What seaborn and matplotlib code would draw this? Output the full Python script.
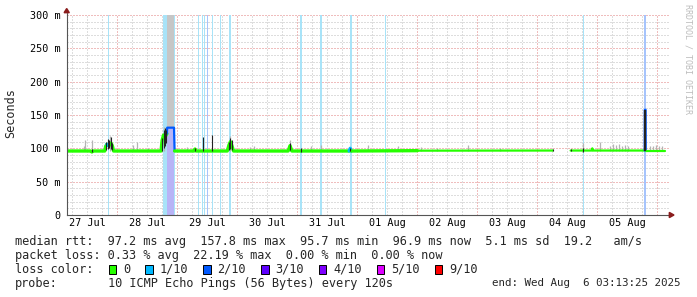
import numpy as np
import pandas as pd
import matplotlib
matplotlib.use("Agg")
import matplotlib.pyplot as plt
from matplotlib.patches import Rectangle, Polygon
from matplotlib.lines import Line2D
import seaborn as sns

YEAR = "2025-"

# ---------------- data ----------------
# median RTT (ms), loss level in tenths per point; NaN = no data
med_time = ["07-27 03:50", "07-27 13:20", "07-27 13:50", "07-27 14:20", "07-27 19:00",
            "07-27 19:20", "07-27 19:50", "07-27 20:25", "07-27 20:50", "07-27 21:30",
            "07-27 22:05", "07-27 22:30", "07-28 17:30", "07-28 17:55", "07-28 18:30",
            "07-28 19:05", "07-28 19:50", "07-28 19:58", "07-28 22:41", "07-28 22:55",
            "07-29 06:40", "07-29 07:05", "07-29 07:30", "07-29 20:00", "07-29 20:40",
            "07-29 21:15", "07-29 21:50", "07-29 22:30", "07-30 20:20", "07-30 21:05",
            "07-30 21:50", "07-31 20:45", "07-31 21:10", "07-31 21:35", "08-02 00:00",
            "08-04 06:15", "08-04 06:20", "08-04 13:20", "08-04 21:45", "08-04 22:00",
            "08-04 22:15", "08-05 18:58", "08-05 19:00", "08-05 19:20", "08-05 19:22",
            "08-06 03:05"]
med_ms = [96.0, 96.0, 94.5, 96.0, 96.0,
          103.0, 106.0, 104.0, 105.0, 108.0,
          103.0, 96.0, 96.0, 112.0, 120.0,
          117.0, 122.0, 131.0, 131.0, 96.0,
          96.0, 99.0, 96.0, 96.0, 105.0,
          110.0, 104.0, 96.0, 96.0, 104.0,
          96.0, 96.0, 100.0, 96.0, 96.5,
          96.7, np.nan, 96.7, 96.7, 100.0,
          96.7, 96.7, 157.8, 157.8, 96.7,
          96.7]
med_loss = [0, 0, 0, 0, 0,
            0, 0, 1, 0, 0,
            0, 0, 0, 0, 0,
            0, 0, 2, 2, 0,
            0, 0, 0, 0, 0,
            0, 0, 0, 0, 0,
            0, 0, 1, 0, 0,
            0, 0, 0, 0, 0,
            0, 0, 2, 2, 0,
            0]

# light smoke (ping spread above the median)
smoke_time = ["07-27 10:40", "07-27 11:05", "07-27 13:50", "07-27 21:00", "07-28 06:15",
              "07-28 07:50", "07-28 12:15", "07-28 18:45", "07-29 03:50", "07-29 21:00",
              "07-30 05:05", "07-30 06:40", "07-30 21:05", "07-31 05:30", "07-31 09:30",
              "08-01 04:15", "08-01 16:15", "08-02 01:30", "08-02 07:50", "08-02 20:10",
              "08-03 09:05", "08-04 18:15", "08-05 01:05", "08-05 05:05", "08-05 06:15",
              "08-05 07:30", "08-05 08:40", "08-05 09:50", "08-05 11:05", "08-05 12:15",
              "08-05 21:05", "08-05 22:15", "08-05 23:30", "08-06 00:40", "08-06 01:55"]
smoke_top = [103, 113, 112, 118, 105,
             110, 101, 132, 102, 118,
             102, 104, 113, 103, 105,
             105, 103, 102, 101, 105,
             101, 108, 110, 104, 106,
             105, 106, 104, 105, 103,
             104, 104, 105, 103, 104]
smoke_low = 96.0

# dark smoke (dense pings)
dark_time = ["07-27 13:50", "07-27 19:25", "07-27 20:05", "07-27 20:45", "07-27 21:25",
             "07-27 22:00", "07-28 17:55", "07-28 18:30", "07-28 19:05", "07-28 19:40",
             "07-29 07:05", "07-29 10:17", "07-29 13:53", "07-29 20:40", "07-29 21:15",
             "07-29 21:50", "07-30 21:05", "07-31 01:29", "07-31 21:10", "08-04 06:15",
             "08-04 13:20", "08-04 18:17", "08-05 19:10"]
dark_low = [94, 98, 99, 100, 99,
            98, 96, 100, 104, 108,
            96, 96, 96, 98, 99,
            98, 97, 95, 96, 96,
            96, 95, 96.7]
dark_high = [99, 110, 114, 112, 117,
             108, 115, 128, 130, 128,
             100, 117, 120, 110, 116,
             112, 108, 100, 101, 99,
             99, 101, 157.8]

# smoke beyond the top of the range
over_start = ["07-28 19:58"]
over_end = ["07-28 22:41"]
over_low = [131.0]

# loss background bars
lossbg_start = ["07-27 20:06", "07-28 18:10", "07-28 19:58", "07-28 22:41", "07-29 08:06",
                "07-29 09:42", "07-29 10:30", "07-29 11:42", "07-29 13:42", "07-29 16:54",
                "07-29 20:47", "07-31 01:11", "07-31 09:11", "07-31 20:58", "08-01 10:54",
                "08-04 18:06", "08-05 18:38"]
lossbg_end = ["07-27 20:42", "07-28 19:58", "07-28 22:41", "07-28 23:00", "07-29 08:42",
              "07-29 10:18", "07-29 11:06", "07-29 12:18", "07-29 14:18", "07-29 17:30",
              "07-29 21:23", "07-31 01:47", "07-31 09:47", "07-31 21:46", "08-01 11:30",
              "08-04 18:42", "08-05 19:32"]
lossbg_level = [1, 1, 3, 1, 1,
                1, 1, 2, 1, 1,
                1, 1, 1, 1, 1,
                1, 2]

y_ticks = [0, 50, 100, 150, 200, 250, 300]
y_tick_labels = ["0", "50 m", "100 m", "150 m", "200 m", "250 m", "300 m"]
x_tick_days = ["07-27", "07-28", "07-29", "07-30", "07-31",
               "08-01", "08-02", "08-03", "08-04", "08-05"]
x_tick_labels = ["27 Jul", "28 Jul", "29 Jul", "30 Jul", "31 Jul",
                 "01 Aug", "02 Aug", "03 Aug", "04 Aug", "05 Aug"]

loss_levels = [0, 1, 2, 3, 4, 5, 9]
loss_labels = ["0", "1/10", "2/10", "3/10", "4/10", "5/10", "9/10"]
loss_colors = ["#26ff00", "#00b8ff", "#0059ff", "#5e00ff", "#7e00ff", "#dd00ff", "#ff0000"]

rtt_avg, rtt_max, rtt_min, rtt_now, rtt_sd, rtt_amps = 97.2, 157.8, 95.7, 96.9, 5.1, 19.2
loss_avg, loss_max, loss_min, loss_now = 0.33, 22.19, 0.00, 0.00
probe_text = "10 ICMP Echo Pings (56 Bytes) every 120s"
end_text = "end: Wed Aug  6 03:13:25 2025"

# ---------------- styling ----------------
W, H = 697, 297
sns.set_theme(style="white")
plt.rcParams["font.family"] = ["DejaVu Sans Mono", "DejaVu Sans"]
plt.rcParams["axes.unicode_minus"] = False

def dt(lst):
    return pd.to_datetime([YEAR + s for s in lst])

def fx(x):
    return x / W

def fy(y):
    return 1 - y / H

lossbg_colors = {1: "#a8e3f8", 2: "#a6c4fc", 3: "#b8b3f6"}
color_of = dict(zip(loss_levels, loss_colors))

fig = plt.figure(figsize=(W / 100, H / 100), dpi=100)
fig.patch.set_facecolor("white")
AX_L, AX_R, AX_T, AX_B = 66.7, 669.0, 15.0, 215.0
ax = fig.add_axes([fx(AX_L), fy(AX_B), (AX_R - AX_L) / W, (AX_B - AX_T) / H])
ax.set_facecolor("white")

ref = pd.Timestamp("2025-08-01 00:00")
px_per_hour = 2.5
x_left = ref - pd.Timedelta(hours=(357.3 - AX_L) / px_per_hour)
x_right = ref + pd.Timedelta(hours=(AX_R - 357.3) / px_per_hour)

dot = (0, (1, 2))
RED = "#e07c7c"
GREY = "#bdbdbd"

# vertical grid (6h minor, midnight major)
for t in pd.date_range("2025-07-27 06:00", "2025-08-06 00:00", freq="6h"):
    ax.axvline(t, color=RED if t.hour == 0 else GREY, lw=0.72, ls=dot, zorder=0.6)

# horizontal grid via ticks
ax.set_yticks(y_ticks, y_tick_labels)
ax.set_yticks(np.arange(0, 301, 10), minor=True)
ax.grid(which="minor", axis="y", color=GREY, lw=0.72, ls=dot)
ax.grid(which="major", axis="y", color=RED, lw=0.72, ls=dot)
ax.grid(which="both", axis="x", visible=False)
ax.set_axisbelow(True)

# loss background
for s, e, lv in zip(dt(lossbg_start), dt(lossbg_end), lossbg_level):
    ax.axvspan(s, e, color=lossbg_colors[lv], lw=0, zorder=1)

# overflow smoke
for s, e, lo in zip(dt(over_start), dt(over_end), over_low):
    ax.fill_between([s, e], [lo, lo], [300, 300], color="#c6c6c6", lw=0, zorder=1.5)

# light smoke
ax.vlines(dt(smoke_time), smoke_low, smoke_top, color="#b4b4b4", lw=0.9, zorder=2)

# median line, coloured by loss
med = pd.DataFrame({"time": dt(med_time), "ms": med_ms, "loss": med_loss})
thin_from = pd.Timestamp("2025-08-02 00:00")
segs = []
cur = None
for i in range(len(med) - 1):
    a, b = med.iloc[i], med.iloc[i + 1]
    if np.isnan(a.ms) or np.isnan(b.ms):
        cur = None
        continue
    lvl = int(max(a.loss, b.loss))
    lw = 1.6 if a.time >= thin_from else 2.4
    if lvl == 2 and a.time < thin_from:
        lw = 1.6
    key = (lvl, lw)
    if cur is not None and cur[2] == key and cur[1] == i:
        cur[1] = i + 1
    else:
        cur = [i, i + 1, key]
        segs.append(cur)
for i0, i1, (lvl, lw) in segs:
    part = med.iloc[i0:i1 + 1]
    sns.lineplot(data=part, x="time", y="ms", color=color_of[lvl], linewidth=lw,
                 estimator=None, sort=False, ax=ax, zorder=3, legend=False)

# dark smoke
dk_t = dt(dark_time)
dk_w = [1.6 if (h - l) > 40 else 0.8 for l, h in zip(dark_low, dark_high)]
for t, l, h, w in zip(dk_t, dark_low, dark_high, dk_w):
    ax.vlines(t, l, h, color="#222222", lw=w, zorder=4)

ax.set_xlim(x_left, x_right)
ax.set_ylim(0, 300)
ax.set_xlabel("")
ax.set_ylabel("")
ax.set_xticks(dt([d + " 12:00" for d in x_tick_days]), x_tick_labels)
ax.tick_params(axis="both", which="both", length=0, labelsize=7.3, colors="black")
ax.tick_params(axis="x", pad=1.8)
ax.tick_params(axis="y", pad=4.3)

for sp in ["top", "right"]:
    ax.spines[sp].set_visible(False)
for sp in ["left", "bottom"]:
    ax.spines[sp].set_color("#555555")
    ax.spines[sp].set_linewidth(0.8)
    ax.spines[sp].set_zorder(5)

aw = AX_R - AX_L
ah = AX_B - AX_T
ARROW = "#8a1c1c"
ax.add_line(Line2D([0, 0], [1, 1 + 2.5 / ah], transform=ax.transAxes, color="#555555",
                   lw=0.8, clip_on=False))
ax.add_patch(Polygon([(-2.6 / aw, 1 + 2.3 / ah), (2.6 / aw, 1 + 2.3 / ah), (0, 1 + 6.5 / ah)],
                     closed=True, transform=ax.transAxes, color=ARROW, clip_on=False, zorder=6))
ax.add_patch(Polygon([(0.3 / aw + 1, -2.6 / ah), (0.3 / aw + 1, 2.6 / ah), (1 + 5 / aw, 0)],
                     closed=True, transform=ax.transAxes, color=ARROW, clip_on=False, zorder=6))

# y label and watermark
fig.text(fx(10.5), fy(113.5), "Seconds", rotation=90, ha="center", va="center", fontsize=8.5)
fig.text(fx(688), fy(4), "RRDTOOL / TOBI OETIKER", rotation=270, ha="center", va="top",
         fontsize=6.0, color="#bdbdbd")

# legend block
LFS = 8.53
CW = 7.13
X0 = 15.2
rows = [241.6, 255.5, 269.4, 283.3]
line1 = (f"median rtt:  {rtt_avg:.1f} ms avg  {rtt_max:.1f} ms max  {rtt_min:.1f} ms min  "
         f"{rtt_now:.1f} ms now  {rtt_sd:.1f} ms sd  {rtt_amps:.1f}   am/s")
line2 = (f"packet loss: {loss_avg:.2f} % avg  {loss_max:.2f} % max  {loss_min:.2f} % min  "
         f"{loss_now:.2f} % now")
fig.text(fx(X0), fy(rows[0]), line1, fontsize=LFS, va="center", ha="left")
fig.text(fx(X0), fy(rows[1]), line2, fontsize=LFS, va="center", ha="left")
fig.text(fx(X0), fy(rows[2]), "loss color:", fontsize=LFS, va="center", ha="left")
c = 13.07
for lab, col in zip(loss_labels, loss_colors):
    sx = X0 + 0.3 + c * CW
    fig.add_artist(Rectangle((fx(sx), fy(rows[2] + 4.2)), 7.6 / W, 8.2 / H,
                             transform=fig.transFigure, facecolor=col, edgecolor="black",
                             lw=0.7))
    fig.text(fx(X0 + (c + 2.03) * CW), fy(rows[2]), lab, fontsize=LFS, va="center", ha="left")
    c += 4.12 + len(lab)
fig.text(fx(X0), fy(rows[3]), "probe:", fontsize=LFS, va="center", ha="left")
fig.text(fx(X0 + 13 * CW), fy(rows[3]), probe_text, fontsize=LFS, va="center", ha="left")
fig.text(fx(680.5), fy(rows[3]), end_text, fontsize=7.8, va="center", ha="right")

fig.savefig("out.png", dpi=100, facecolor="white")
